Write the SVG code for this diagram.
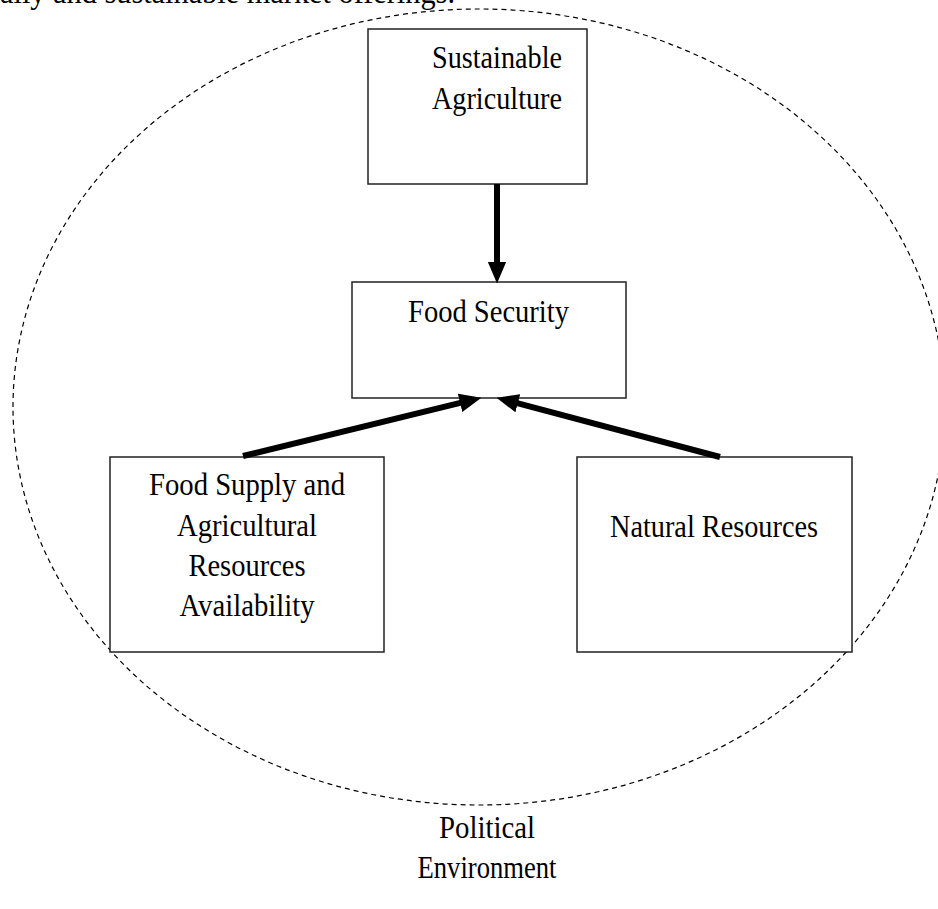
<svg xmlns="http://www.w3.org/2000/svg" width="938" height="909" viewBox="0 0 938 909">
<style>
text{font-family:"Liberation Serif","Times New Roman",serif;font-size:32px;fill:#000;text-anchor:middle}
.box{fill:#fff;stroke:#222;stroke-width:1.5}
.arr{stroke:#000;stroke-width:6;fill:none;marker-end:url(#ah)}
</style>
<defs>
<marker id="ah" markerUnits="userSpaceOnUse" markerWidth="22" markerHeight="20" viewBox="0 0 20 17" refX="5" refY="8.5" orient="auto">
<path d="M0,0 L20,8.5 L0,17 z" fill="#000"/>
</marker>
</defs>
<text x="0" y="3" style="text-anchor:start" textLength="455" lengthAdjust="spacingAndGlyphs">ally and sustainable market offerings.</text>
<ellipse id="political-environment" cx="479" cy="407" rx="466" ry="398" fill="none" stroke="#000" stroke-width="1.2" stroke-dasharray="5,4"/>
<g id="n-sustainable">
<rect class="box" x="368" y="29" width="219" height="155"/>
<text x="497" y="68" textLength="130" lengthAdjust="spacingAndGlyphs">Sustainable</text>
<text x="497" y="109" textLength="130" lengthAdjust="spacingAndGlyphs">Agriculture</text>
</g>
<g id="n-foodsecurity">
<rect class="box" x="352" y="282" width="274" height="116"/>
<text x="488.5" y="322" textLength="161" lengthAdjust="spacingAndGlyphs">Food Security</text>
</g>
<g id="n-foodsupply">
<rect class="box" x="110" y="457" width="274" height="195"/>
<text x="247" y="495" textLength="196" lengthAdjust="spacingAndGlyphs">Food Supply and</text>
<text x="247" y="536" textLength="140" lengthAdjust="spacingAndGlyphs">Agricultural</text>
<text x="247" y="576" textLength="117" lengthAdjust="spacingAndGlyphs">Resources</text>
<text x="247" y="616" textLength="135" lengthAdjust="spacingAndGlyphs">Availability</text>
</g>
<g id="n-natural">
<rect class="box" x="577" y="457" width="275" height="195"/>
<text x="714" y="537" textLength="208" lengthAdjust="spacingAndGlyphs">Natural Resources</text>
</g>
<g id="n-political-label">
<text x="487" y="838" textLength="96" lengthAdjust="spacingAndGlyphs">Political</text>
<text x="487" y="878" textLength="139" lengthAdjust="spacingAndGlyphs">Environment</text>
</g>
<g id="connectors">
<line class="arr" x1="497" y1="184" x2="497" y2="267"/>
<line class="arr" x1="243" y1="456" x2="465.4" y2="401.6"/>
<line class="arr" x1="720" y1="457" x2="512.5" y2="401.9"/>
</g>
</svg>
